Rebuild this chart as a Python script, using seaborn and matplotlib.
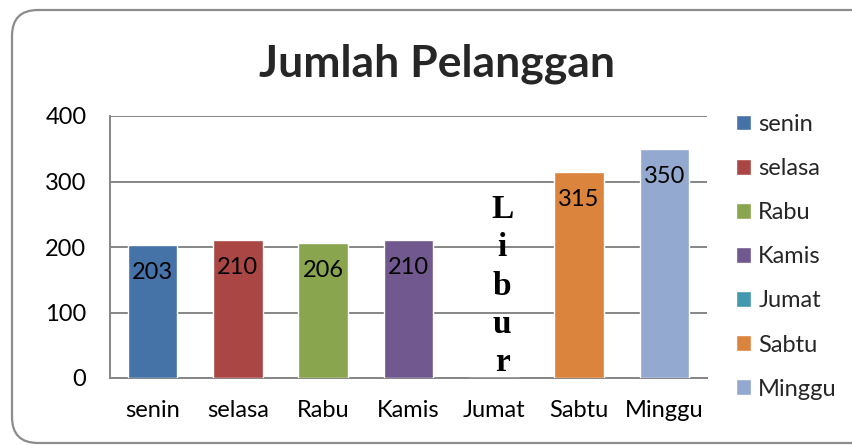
import matplotlib
matplotlib.use("Agg")
import matplotlib.pyplot as plt
import matplotlib.patches as mpatches
import seaborn as sns
import pandas as pd

# ---- data ----
days = ["senin", "selasa", "Rabu", "Kamis", "Jumat", "Sabtu", "Minggu"]
customers = [203, 210, 206, 210, 0, 315, 350]
colors = ["#4572A7", "#AA4643", "#89A54E", "#71588F", "#4198AF", "#DB843D", "#93A9CF"]
y_ticks = [0, 100, 200, 300, 400]
title = "Jumlah Pelanggan"
holiday_day = "Jumat"
holiday_text = "Libur"

df = pd.DataFrame({"hari": days, "pelanggan": customers})

sns.set_theme(style="white")
plt.rcParams["font.family"] = ["Lato", "DejaVu Sans"]

fig = plt.figure(figsize=(8.52, 4.45), dpi=100)
ax = fig.add_axes([110 / 852, 1 - 378 / 445, 597 / 852, 262 / 445])

sns.barplot(data=df, x="hari", y="pelanggan", hue="hari", palette=colors,
            dodge=False, width=0.58, saturation=1, legend=True, ax=ax, zorder=3)

FS = 17
ax.set_ylim(0, 400)
ax.set_yticks(y_ticks)
ax.set_xlim(-0.5, len(days) - 0.5)
ax.set_xlabel("")
ax.set_ylabel("")
ax.grid(axis="y", color="#868686", linewidth=1.4, zorder=0)
ax.grid(axis="x", visible=False)
for s in ["top", "right"]:
    ax.spines[s].set_visible(False)
for s in ["left", "bottom"]:
    ax.spines[s].set_color("#868686")
    ax.spines[s].set_linewidth(1.4)
ax.tick_params(axis="y", length=0, pad=17, labelsize=FS, labelcolor="black")
ax.tick_params(axis="x", length=0, pad=16, labelsize=FS, labelcolor="black")

# value labels
for i, v in enumerate(customers):
    if days[i] == holiday_day:
        continue
    ax.annotate(str(v), xy=(i, v), xytext=(0, -24.5), textcoords="offset points",
                ha="center", va="baseline", fontsize=FS, color="black", zorder=5)

# holiday text
hi = days.index(holiday_day)
ax.annotate("\n".join(holiday_text), xy=(hi, 0), xytext=(6, 0), textcoords="offset points",
            ha="center", va="bottom", fontsize=24, fontweight="bold",
            family="Liberation Serif", linespacing=1.3, color="black")

# legend
handles, labels = ax.get_legend_handles_labels()
ax.legend_.remove()
fig.legend(handles, labels, loc="upper left", bbox_to_anchor=(724 / 852, 1 - 102 / 445),
           frameon=False, fontsize=FS, handlelength=0.65, handleheight=0.65,
           handletextpad=0.3, labelspacing=0.98, borderpad=0)

fig.suptitle(title, x=437 / 852, y=1 - 64 / 445, va="center", fontsize=32, fontweight="bold")

# rounded outer border (pixel coordinates)
border = mpatches.FancyBboxPatch((12, 2), 870, 433,
                                 boxstyle="round,pad=0,rounding_size=26",
                                 transform=None, facecolor="none",
                                 edgecolor="#8c8c8c", linewidth=1.6)
fig.add_artist(border)

fig.savefig("out.png", dpi=100)
